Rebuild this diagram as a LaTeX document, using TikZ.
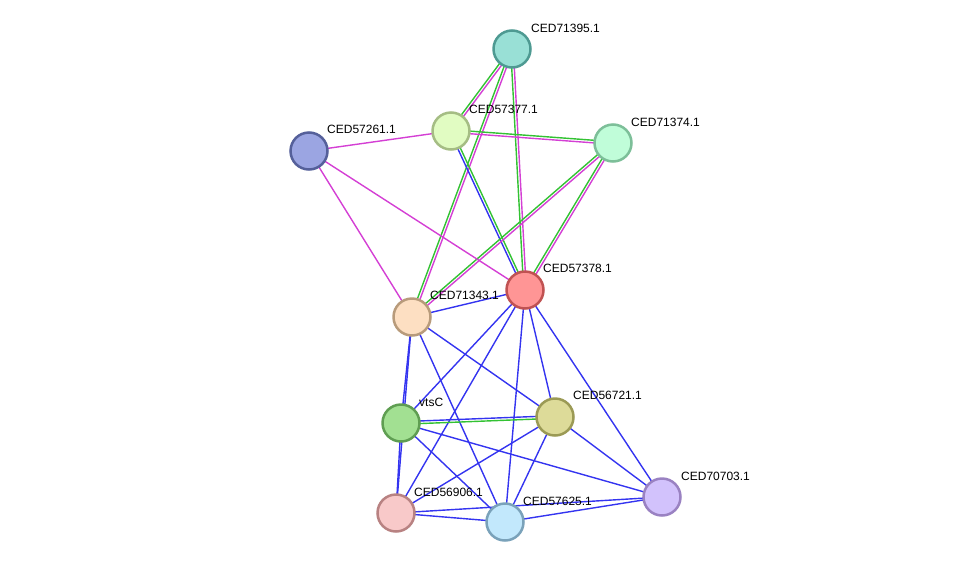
\documentclass[tikz,border=0pt]{standalone}
\usepackage{fontspec}
\setmainfont{Liberation Sans}
\usetikzlibrary{calc,backgrounds}
\definecolor{eblue}{HTML}{3434F0}
\definecolor{egreen}{HTML}{33C233}
\definecolor{emag}{HTML}{D43FD4}
\definecolor{fa}{HTML}{99E0D6}\definecolor{da}{HTML}{4E9A92}
\definecolor{fb}{HTML}{E1FCC2}\definecolor{db}{HTML}{A5BD84}
\definecolor{fc}{HTML}{C0FDD9}\definecolor{dc}{HTML}{7DBF99}
\definecolor{fd}{HTML}{9BA5E2}\definecolor{dd}{HTML}{55609A}
\definecolor{fe}{HTML}{FF9595}\definecolor{de}{HTML}{C05252}
\definecolor{ff}{HTML}{FDDFC2}\definecolor{df}{HTML}{B89B7B}
\definecolor{fg}{HTML}{A2E092}\definecolor{dg}{HTML}{5F9E52}
\definecolor{fh}{HTML}{DDDB99}\definecolor{dh}{HTML}{9B9A55}
\definecolor{fi}{HTML}{F8C9C9}\definecolor{di}{HTML}{B88282}
\definecolor{fj}{HTML}{C2E8FC}\definecolor{dj}{HTML}{7AA2BA}
\definecolor{fk}{HTML}{D2C2FC}\definecolor{dk}{HTML}{9A82C2}
\tikzset{
  prot/.style={circle,minimum size=37pt,inner sep=0pt,line width=2.5pt},
  lbl/.style={font=\fontsize{12}{14}\selectfont,anchor=south west,inner sep=0pt},
  edge/.style={line width=1.4pt},
}
\newcommand{\single}[3]{\draw[edge,#3] (#1.center) -- (#2.center);}
\newcommand{\dbl}[4]{%
  \draw[edge,#3] ($(#1.center)!1.3pt!-90:(#2.center)$) -- ($(#2.center)!1.3pt!90:(#1.center)$);
  \draw[edge,#4] ($(#1.center)!1.3pt!90:(#2.center)$) -- ($(#2.center)!1.3pt!-90:(#1.center)$);}
\begin{document}
\begin{tikzpicture}[x=1pt,y=-1pt]
\useasboundingbox (0,0) rectangle (976,568);
\node[prot,fill=fa,draw=da] (a) at (512,49) {};
\node[prot,fill=fb,draw=db] (b) at (451,131) {};
\node[prot,fill=fc,draw=dc] (c) at (613,143) {};
\node[prot,fill=fd,draw=dd] (d) at (309,151) {};
\node[prot,fill=fe,draw=de] (e) at (525,290) {};
\node[prot,fill=ff,draw=df] (f) at (412,317) {};
\node[prot,fill=fg,draw=dg] (g) at (401,423) {};
\node[prot,fill=fh,draw=dh] (h) at (555,417) {};
\node[prot,fill=fi,draw=di] (i) at (396,513) {};
\node[prot,fill=fj,draw=dj] (j) at (505,522) {};
\node[prot,fill=fk,draw=dk] (k) at (662,497) {};
\node[lbl] (la) at (531,33) {CED71395.1};
\node[lbl] (lb) at (469,114) {CED57377.1};
\node[lbl] (lc) at (631,127) {CED71374.1};
\node[lbl] (ld) at (327,134) {CED57261.1};
\node[lbl] (le) at (543,273) {CED57378.1};
\node[lbl] (lf) at (430,300) {CED71343.1};
\node[lbl] (lg) at (419,407) {vtsC};
\node[lbl] (lh) at (573,400) {CED56721.1};
\node[lbl] (li) at (414,497) {CED56906.1};
\node[lbl] (lj) at (523,506) {CED57625.1};
\node[lbl] (lk) at (681,481) {CED70703.1};
\begin{scope}[on background layer]
\dbl{a}{b}{egreen}{emag}
\dbl{a}{f}{egreen}{emag}
\dbl{a}{e}{egreen}{emag}
\dbl{c}{b}{egreen}{emag}
\dbl{b}{e}{eblue}{egreen}
\single{b}{d}{emag}
\dbl{c}{f}{egreen}{emag}
\dbl{c}{e}{egreen}{emag}
\single{d}{f}{emag}
\single{d}{e}{emag}
\single{f}{e}{eblue}
\single{f}{g}{eblue}
\single{f}{h}{eblue}
\single{f}{j}{eblue}
\single{f}{i}{eblue}
\single{e}{g}{eblue}
\single{e}{i}{eblue}
\single{e}{j}{eblue}
\single{e}{h}{eblue}
\single{e}{k}{eblue}
\dbl{g}{h}{egreen}{eblue}
\single{g}{i}{eblue}
\single{g}{j}{eblue}
\single{g}{k}{eblue}
\single{h}{i}{eblue}
\single{h}{j}{eblue}
\single{h}{k}{eblue}
\single{i}{j}{eblue}
\single{i}{k}{eblue}
\single{j}{k}{eblue}
\end{scope}
\end{tikzpicture}
\end{document}
